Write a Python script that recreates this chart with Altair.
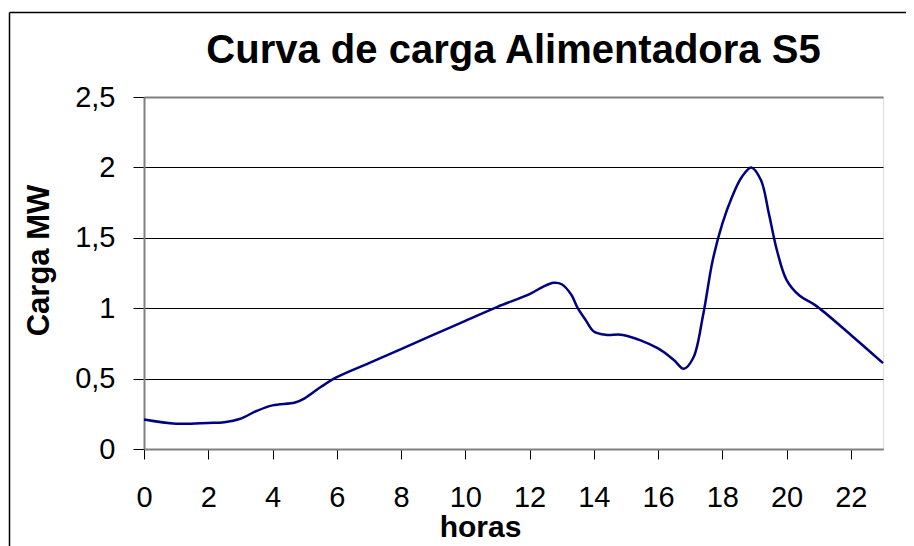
import altair as alt
import pandas as pd

horas = [0, 1, 2, 2.5, 3, 3.5, 4, 4.7, 5, 5.5, 6, 7, 8, 9, 10, 11, 12, 12.4, 12.75,
         13.0, 13.3, 13.5, 13.75, 14, 14.4, 14.9, 16, 16.5, 16.8, 17.1, 17.4, 17.7,
         18, 18.3, 18.6, 18.9, 19.2, 19.45, 19.7, 20, 20.4, 20.9, 22, 23]
carga = [0.21, 0.18, 0.185, 0.19, 0.215, 0.27, 0.31, 0.33, 0.36, 0.44, 0.51, 0.61,
         0.71, 0.81, 0.91, 1.01, 1.10, 1.15, 1.18, 1.17, 1.095, 1.0, 0.915, 0.835,
         0.81, 0.81, 0.715, 0.63, 0.57, 0.65, 0.95, 1.34, 1.6, 1.79, 1.93, 2.0,
         1.91, 1.67, 1.41, 1.2, 1.09, 1.02, 0.81, 0.61]
x_ticks = [0, 2, 4, 6, 8, 10, 12, 14, 16, 18, 20, 22]
y_ticks = [0, 0.5, 1, 1.5, 2, 2.5]

df = pd.DataFrame({"horas": horas, "carga": carga})
FONT = "Liberation Sans"

line = alt.Chart(df).mark_line(color="#000080", strokeWidth=2.5, interpolate="catmull-rom").encode(
    x=alt.X("horas:Q", scale=alt.Scale(domain=[0, 23], nice=False, zero=False),
            axis=alt.Axis(values=x_ticks, grid=False, tickSize=10, tickColor="#000",
                          labelFontSize=29, labelPadding=24, labelColor="#000",
                          labelFont=FONT, labelFlush=False,
                          domainColor="#808080", domainWidth=2,
                          title="horas", titleFont=FONT, titleFontSize=30,
                          titleFontWeight="bold", titleColor="#000",
                          titleX=336, titleY=87, titleBaseline="alphabetic",
                          titleAlign="center")),
    y=alt.Y("carga:Q", scale=alt.Scale(domain=[0, 2.5], nice=False),
            axis=alt.Axis(values=y_ticks, grid=True,
                          gridColor=alt.condition("datum.value >= 2.5", alt.value("#808080"), alt.value("#000")),
                          gridWidth=alt.condition("datum.value >= 2.5", alt.value(2), alt.value(1)),
                          tickSize=11, tickColor="#000", labelFontSize=29,
                          labelPadding=18, labelColor="#000", labelFont=FONT,
                          labelFlush=False,
                          labelExpr="replace(toString(datum.value), '.', ',')",
                          domainColor="#808080", domainWidth=2,
                          title="Carga MW", titleFont=FONT, titleFontSize=31,
                          titleFontWeight="bold", titleColor="#000",
                          titleAngle=270, titleX=-96, titleY=163,
                          titleBaseline="alphabetic", titleAlign="center")),
)

frame_df = alt.Data(values=[{"k": 1}])
left_rule = alt.Chart(frame_df).mark_rule(color="#000", strokeWidth=1.5).encode(
    x=alt.value(-134.5), y=alt.value(-84.5), y2=alt.value(500))
top_rule = alt.Chart(frame_df).mark_rule(color="#000", strokeWidth=1.5).encode(
    x=alt.value(-134.5), x2=alt.value(900), y=alt.value(-84.5))

chart = alt.layer(line, left_rule, top_rule).properties(
    width=739, height=352,
    autosize=alt.AutoSizeParams(type="none"),
    padding={"left": 136, "top": 89, "right": 23, "bottom": 97},
    title=alt.TitleParams("Curva de carga Alimentadora S5", font=FONT, fontSize=40,
                          fontWeight="bold", color="#000", anchor="middle",
                          baseline="alphabetic", offset=0, dy=91, frame="group"),
).configure_view(stroke="#808080", strokeWidth=2).configure(background="white")

chart.save("out.html", embed_options={"renderer": "svg", "actions": False})
